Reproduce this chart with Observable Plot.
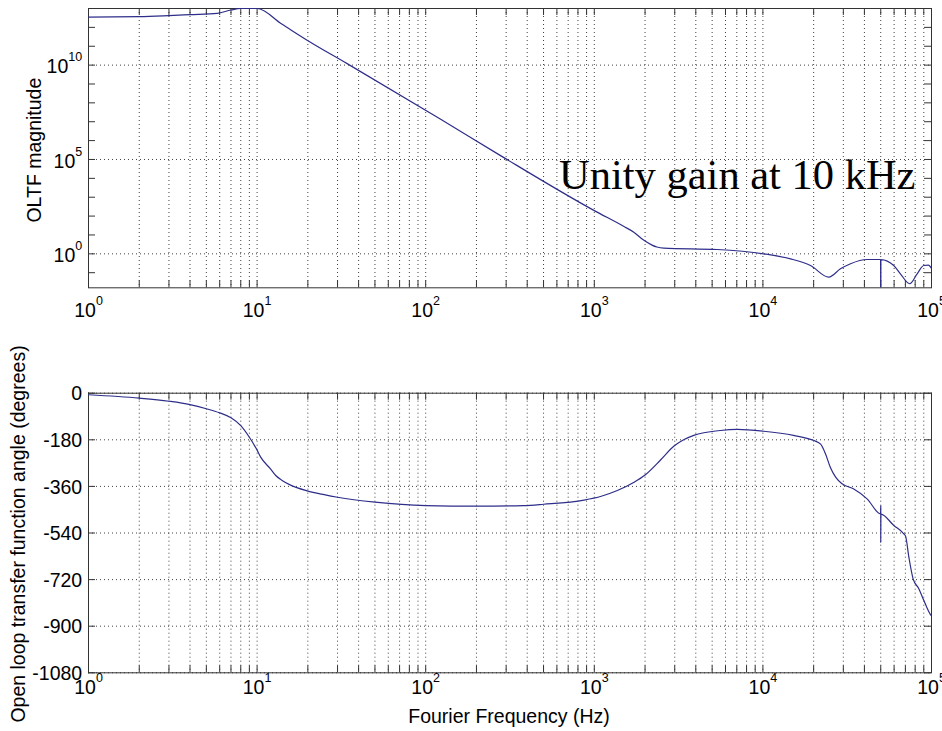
<!DOCTYPE html>
<html>
<head>
<meta charset="utf-8">
<script src="https://cdn.jsdelivr.net/npm/d3@7"></script>
<script src="https://cdn.jsdelivr.net/npm/@observablehq/plot@0.6"></script>
<style>
  html, body { margin: 0; padding: 0; background: #fff; }
  #chart { width: 942px; height: 731px; position: relative; background: #fff; }
  #chart svg { display: block; }
</style>
</head>
<body>
<div id="chart"></div>
<script>
// ---------- data ----------
const magFreq = [1, 2, 3, 4, 5.8, 7, 8, 9, 10, 14, 19.8, 34.2, 122, 278, 1000, 1500, 1715, 1950, 2200, 2350, 2584, 5356, 10120, 14580, 19150, 24600, 28840, 33100, 41500, 49900, 50000, 50100, 59700, 65400, 74300, 82200, 90000, 95800, 100000];
const magValue = [3.5e12, 3.7e12, 4.2e12, 4.7e12, 5.5e12, 8.3e12, 1.0e13, 1.0e13, 1.0e13, 1.5e12, 2.1e11, 1.2e10, 1.4e7, 1.6e5, 195, 28, 14, 5.5, 2.9, 2.3, 2.0, 1.7, 1.0, 0.54, 0.24, 0.058, 0.16, 0.30, 0.50, 0.50, 1e-4, 0.49, 0.24, 0.087, 0.026, 0.087, 0.24, 0.25, 0.17];

const phaseFreq = [1, 2, 3, 4, 5, 6, 7, 8, 9, 10, 10.5, 12, 12.9, 14, 15.8, 19.8, 25, 30, 50, 100, 200, 380, 500, 870, 1100, 1370, 1710, 2000, 2470, 2970, 3390, 3890, 5600, 7040, 10100, 15200, 19900, 22000, 23500, 25100, 27000, 29500, 34600, 41500, 49900, 50000, 50000, 50100, 59800, 68500, 70200, 73400, 77800, 84100, 90000, 98600, 100000];
const phaseDeg = [-6, -19, -31, -44, -60, -76, -95, -125, -170, -220, -247, -292, -318, -336, -355, -377, -392, -402, -421, -434, -436, -434, -429, -413, -398, -376, -345, -316, -258, -204, -180, -163, -144, -140, -147, -163, -182, -197, -234, -286, -324, -350, -370, -408, -466, -435, -576, -467, -511, -543, -552, -633, -717, -755, -800, -855, -860];

const xMajorTicks = [1, 10, 100, 1000, 10000, 100000];
const xTickExponents = ["0", "1", "2", "3", "4", "5"];
const magMajorTicks = [1, 1e5, 1e10];
const magTickExponents = ["0", "5", "10"];
const phaseTicks = [0, -180, -360, -540, -720, -900, -1080];

const annotationText = "Unity gain at 10 kHz";
const magLabel = "OLTF magnitude";
const phaseLabel = "Open loop transfer function angle (degrees)";
const xLabel = "Fourier Frequency (Hz)";

// ---------- derived tables ----------
const magData = magFreq.map((f, i) => ({f, m: magValue[i]}));
const phaseData = phaseFreq.map((f, i) => ({f, p: phaseDeg[i]}));
const xMinorTicks = [];
for (const d of [1, 10, 100, 1000, 10000]) for (let k = 1; k <= 9; k++) xMinorTicks.push(k * d);
xMinorTicks.push(100000);
const magDecadeTicks = [];
for (let e = -1; e <= 13; e++) magDecadeTicks.push(Math.pow(10, e));

const xExp = new Map(xMajorTicks.map((v, i) => [v, xTickExponents[i]]));
const mExp = new Map(magMajorTicks.map((v, i) => [v, magTickExponents[i]]));

// ---------- style ----------
const FONT = "'Liberation Sans', Arial, Helvetica, sans-serif";
const LINE = "#2e2e8a";
const GRID = {stroke: "#000", strokeOpacity: 0.75, strokeDasharray: "1,3", strokeWidth: 1};
const TICK = 7;
const W = 942, ML = 88, MR = 11;
const PW = W - ML - MR;

// ---------- top panel ----------
const H1 = 320, MT1 = 8, MB1 = 32.7;
const PH1 = H1 - MT1 - MB1;
const magPlot = Plot.plot({
  width: W, height: H1,
  marginLeft: ML, marginRight: MR, marginTop: MT1, marginBottom: MB1,
  style: {fontFamily: FONT, fontSize: "19.5px", background: "#fff", color: "#000", overflow: "visible"},
  x: {type: "log", domain: [1, 1e5]},
  y: {type: "log", domain: [Math.pow(10, -1.8), 1e13]},
  marks: [
    Plot.gridX(xMinorTicks, GRID),
    Plot.gridY(magMajorTicks, GRID),
    Plot.tickX(xMinorTicks, {x: d => d, insetTop: PH1 - TICK, stroke: "#333"}),
    Plot.tickX(xMinorTicks, {x: d => d, insetBottom: PH1 - TICK, stroke: "#333"}),
    Plot.tickY(magDecadeTicks, {y: d => d, insetRight: PW - TICK, stroke: "#333"}),
    Plot.tickY(magDecadeTicks, {y: d => d, insetLeft: PW - TICK, stroke: "#333"}),
    Plot.frame({stroke: "#333", strokeWidth: 1}),
    Plot.line(magData, {x: "f", y: "m", stroke: LINE, strokeWidth: 1.2, curve: "monotone-x", clip: true}),
    Plot.axisX(xMajorTicks, {tickSize: 0, tickPadding: 15.5, tickFormat: d => "10^" + xExp.get(d), label: null, fill: "#000"}),
    Plot.axisY(magMajorTicks, {tickSize: 0, tickPadding: 6.3, dy: 2, tickFormat: d => "10^" + mExp.get(d), label: null, fill: "#000"}),
    Plot.text([magLabel], {text: d => d, frameAnchor: "left", textAnchor: "middle", rotate: -90, dx: -54.2, dy: 2, fontSize: 19.5, fill: "#000"}),
    Plot.text([annotationText], {text: d => d, frameAnchor: "top-right", textAnchor: "end", lineAnchor: "bottom", dx: -16, dy: 180.3, fontSize: 42.5, fontFamily: "'Liberation Serif', 'Times New Roman', serif", fill: "#000"})
  ]
});

// ---------- bottom panel ----------
const H2 = 411, MT2 = 72.7, MB2 = 58.7;
const PH2 = H2 - MT2 - MB2;
const phasePlot = Plot.plot({
  width: W, height: H2,
  marginLeft: ML, marginRight: MR, marginTop: MT2, marginBottom: MB2,
  style: {fontFamily: FONT, fontSize: "19.5px", background: "#fff", color: "#000"},
  x: {type: "log", domain: [1, 1e5]},
  y: {domain: [-1080, 0]},
  marks: [
    Plot.gridX(xMinorTicks, GRID),
    Plot.gridY(phaseTicks, GRID),
    Plot.tickX(xMinorTicks, {x: d => d, insetTop: PH2 - TICK, stroke: "#333"}),
    Plot.tickX(xMinorTicks, {x: d => d, insetBottom: PH2 - TICK, stroke: "#333"}),
    Plot.tickY(phaseTicks, {y: d => d, insetRight: PW - TICK, stroke: "#333"}),
    Plot.tickY(phaseTicks, {y: d => d, insetLeft: PW - TICK, stroke: "#333"}),
    Plot.frame({stroke: "#333", strokeWidth: 1}),
    Plot.line(phaseData, {x: "f", y: "p", stroke: LINE, strokeWidth: 1.2, curve: "monotone-x", clip: true}),
    Plot.axisX(xMajorTicks, {tickSize: 0, tickPadding: 7.2, tickFormat: d => "10^" + xExp.get(d), label: null, fill: "#000"}),
    Plot.axisY(phaseTicks, {tickSize: 0, tickPadding: 6.3, dy: 1, tickFormat: d => String(d), label: null, fill: "#000"}),
    Plot.text([phaseLabel], {text: d => d, frameAnchor: "left", textAnchor: "middle", rotate: -90, dx: -70.2, dy: 1, fontSize: 19.5, fill: "#000"}),
    Plot.text([xLabel], {text: d => d, frameAnchor: "bottom", textAnchor: "middle", lineAnchor: "bottom", dx: -1, dy: 50.2, fontSize: 19.5, fill: "#000"})
  ]
});

// superscript exponents on tick labels ("10^5" -> 10 with raised 5)
function supify(svg) {
  svg.querySelectorAll('g[aria-label$="tick label"] text').forEach(t => {
    const s = t.textContent;
    const i = s.indexOf("^");
    if (i < 0) return;
    t.textContent = s.slice(0, i);
    const ts = document.createElementNS("http://www.w3.org/2000/svg", "tspan");
    ts.setAttribute("dy", "-12");
    ts.setAttribute("font-size", "12.5");
    ts.textContent = s.slice(i + 1);
    t.appendChild(ts);
  });
}
supify(magPlot);
supify(phasePlot);

const chart = document.getElementById("chart");
chart.appendChild(magPlot);
chart.appendChild(phasePlot);
</script>
</body>
</html>
